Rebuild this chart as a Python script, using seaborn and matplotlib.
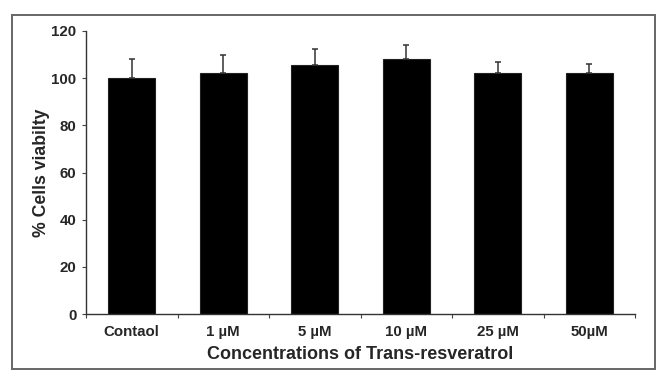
import matplotlib
matplotlib.use("Agg")
import matplotlib.pyplot as plt
import seaborn as sns
from matplotlib.patches import Rectangle
from matplotlib.ticker import FixedLocator

categories = ["Contaol", "1 µM", "5 µM", "10 µM", "25 µM", "50µM"]
viability = [100.0, 102.3, 105.5, 108.0, 102.3, 102.3]
errors_up = [8.2, 7.5, 6.8, 6.0, 4.6, 3.6]
y_ticks = [0, 20, 40, 60, 80, 100, 120]

sns.set_style("white")
plt.rcParams["font.family"] = ["Liberation Sans", "DejaVu Sans"]

fig = plt.figure(figsize=(6.6, 3.77), dpi=100)
ax = fig.add_axes([86 / 660, 1 - 314 / 377, (635 - 86) / 660, (314 - 31) / 377])

sns.barplot(x=categories, y=viability, color="black", width=0.51,
            edgecolor="#222222", linewidth=0.8, errorbar=None, ax=ax)
ax.errorbar(range(len(categories)), viability,
            yerr=[[0] * len(errors_up), errors_up], fmt="none",
            ecolor="#333333", elinewidth=1.1, capsize=2.5, capthick=1.1)

ax.set_xlim(-0.5, len(categories) - 0.5)
ax.set_ylim(0, 120)
ax.set_yticks(y_ticks)
ax.set_yticklabels([str(t) for t in y_ticks], fontsize=10.8, fontweight="bold")
ax.set_xticks(range(len(categories)))
ax.set_xticklabels(categories, fontsize=10.8, fontweight="bold")
ax.xaxis.set_minor_locator(FixedLocator([i - 0.5 for i in range(len(categories) + 1)]))
ax.tick_params(axis="x", which="major", length=0, pad=8)
ax.tick_params(axis="x", which="minor", length=3, width=0.8, color="#444444", direction="out")
ax.tick_params(axis="y", which="major", length=3, width=0.8, color="#444444",
               direction="out", pad=4, left=True)
ax.tick_params(axis="x", which="minor", bottom=True)

for s in ["top", "right"]:
    ax.spines[s].set_visible(False)
for s in ["left", "bottom"]:
    ax.spines[s].set_color("#333333")
    ax.spines[s].set_linewidth(1.0)

ax.set_xlabel("Concentrations of Trans-resveratrol", fontsize=13,
              fontweight="bold", labelpad=5)
ax.set_ylabel("% Cells viabilty", fontsize=12.7, fontweight="bold", labelpad=0.5)

fig.add_artist(Rectangle((12 / 660, 1 - 369 / 377), (655 - 12) / 660, (369 - 15) / 377,
                         transform=fig.transFigure, fill=False,
                         edgecolor="#666666", linewidth=1.4))

fig.savefig("out.png", dpi=100, facecolor="white")
